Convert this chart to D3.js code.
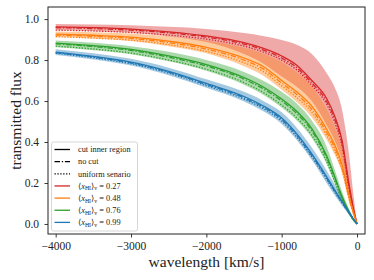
<!DOCTYPE html>
<html><head><meta charset="utf-8">
<script src="https://cdn.jsdelivr.net/npm/d3@7"></script>
<style>
body{margin:0;background:#fff}
svg{display:block}
text{font-family:"Liberation Serif","DejaVu Serif",serif;fill:#222}
</style>
</head><body>
<svg id="c" width="374" height="280"></svg>
<script>
// ---- data ----
const wavelength = [-4000,-3500,-3000,-2500,-2000,-1500,-1250,-1000,-800,-600,-400,-300,-200,-100,-50,0];

const redCut    = [0.962,0.958,0.951,0.938,0.918,0.885,0.858,0.820,0.775,0.700,0.610,0.530,0.410,0.180,0.080,0];
const redNoCut  = [0.958,0.954,0.946,0.933,0.912,0.878,0.850,0.810,0.763,0.688,0.595,0.515,0.395,0.170,0.075,0];
const redUnif   = [0.946,0.942,0.935,0.922,0.902,0.868,0.840,0.800,0.752,0.676,0.582,0.500,0.380,0.160,0.070,0];
const redUpper  = [0.976,0.974,0.970,0.962,0.952,0.932,0.918,0.898,0.875,0.830,0.735,0.670,0.560,0.320,0.150,0];
const redLower  = [0.945,0.941,0.933,0.915,0.888,0.830,0.785,0.720,0.670,0.600,0.480,0.410,0.310,0.140,0.060,0];

const orangeCut   = [0.927,0.921,0.912,0.892,0.862,0.810,0.770,0.700,0.645,0.575,0.460,0.390,0.290,0.130,0.060,0];
const orangeNoCut = [0.922,0.916,0.906,0.885,0.853,0.800,0.758,0.688,0.632,0.560,0.445,0.375,0.278,0.122,0.056,0];
const orangeUnif  = [0.914,0.907,0.897,0.875,0.842,0.787,0.745,0.674,0.617,0.545,0.430,0.360,0.265,0.115,0.052,0];
const orangeUpper = [0.940,0.936,0.930,0.916,0.895,0.860,0.832,0.790,0.740,0.670,0.560,0.480,0.370,0.200,0.090,0];
const orangeLower = [0.912,0.905,0.893,0.868,0.833,0.770,0.725,0.655,0.595,0.520,0.410,0.340,0.250,0.100,0.045,0];

const greenCut   = [0.883,0.870,0.852,0.820,0.778,0.715,0.670,0.610,0.550,0.465,0.330,0.235,0.135,0.055,0.022,0];
const greenNoCut = [0.879,0.866,0.847,0.814,0.771,0.707,0.661,0.600,0.539,0.454,0.320,0.227,0.130,0.052,0.021,0];
const greenUnif  = [0.868,0.854,0.834,0.800,0.755,0.690,0.643,0.580,0.518,0.433,0.302,0.212,0.120,0.048,0.019,0];
const greenUpper = [0.895,0.884,0.868,0.840,0.800,0.742,0.700,0.645,0.588,0.505,0.375,0.270,0.160,0.068,0.028,0];
const greenLower = [0.862,0.848,0.828,0.794,0.748,0.680,0.632,0.568,0.505,0.420,0.290,0.200,0.110,0.042,0.016,0];

const blueCut   = [0.839,0.818,0.790,0.745,0.686,0.622,0.577,0.517,0.440,0.342,0.228,0.168,0.110,0.054,0.026,0];
const blueNoCut = [0.836,0.815,0.786,0.741,0.681,0.616,0.571,0.510,0.432,0.334,0.222,0.163,0.106,0.052,0.025,0];
const blueUnif  = [0.833,0.811,0.782,0.736,0.675,0.609,0.564,0.502,0.424,0.327,0.216,0.158,0.103,0.050,0.024,0];
const blueUpper = [0.853,0.833,0.806,0.763,0.706,0.645,0.602,0.545,0.470,0.373,0.258,0.195,0.132,0.066,0.032,0];
const blueLower = [0.825,0.803,0.773,0.726,0.665,0.598,0.551,0.488,0.410,0.312,0.198,0.142,0.090,0.042,0.020,0];

const xhiValues = ["0.27","0.48","0.76","0.99"];
const styleLabels = ["cut inner region","no cut","uniform senario"];
const xTicks = [-4000,-3000,-2000,-1000,0];
const yTicks = [0,0.2,0.4,0.6,0.8,1.0];

// ---- setup ----
const colors = ["#d62728","#ff7f0e","#2ca02c","#1f77b4"];
const series = [
  {cut:redCut, nocut:redNoCut, unif:redUnif, up:redUpper, lo:redLower},
  {cut:orangeCut, nocut:orangeNoCut, unif:orangeUnif, up:orangeUpper, lo:orangeLower},
  {cut:greenCut, nocut:greenNoCut, unif:greenUnif, up:greenUpper, lo:greenLower},
  {cut:blueCut, nocut:blueNoCut, unif:blueUnif, up:blueUpper, lo:blueLower}
];
const dashes = {cut:null, nocut:"5.5,1.8,1.3,1.8", unif:"1.3,1.6"};

const svg = d3.select("#c");
const L=48, R=365, T=7, B=234;
const x = d3.scaleLinear().domain([-4102,106]).range([L,R]);
const y = d3.scaleLinear().domain([-0.049,1.059]).range([B,T]);

svg.append("defs").append("clipPath").attr("id","clip")
  .append("rect").attr("x",L).attr("y",T).attr("width",R-L).attr("height",B-T);

const plot = svg.append("g").attr("clip-path","url(#clip)");
const area = d3.area().x((d,i)=>x(wavelength[i])).y0(d=>y(d[0])).y1(d=>y(d[1])).curve(d3.curveMonotoneX);
const line = d3.line().x((d,i)=>x(wavelength[i])).y(d=>y(d)).curve(d3.curveMonotoneX);

series.forEach((s,k)=>{
  const pts = s.lo.map((v,i)=>[v, s.up[i]]);
  plot.append("path").attr("d", area(pts)).attr("fill", colors[k]).attr("fill-opacity",0.4).attr("stroke","none");
});
series.forEach((s,k)=>{
  ["unif","nocut","cut"].forEach(key=>{
    plot.append("path").attr("d", line(s[key])).attr("fill","none")
      .attr("stroke", colors[k]).attr("stroke-width",1.3)
      .attr("stroke-dasharray", dashes[key]);
  });
});

// axes
const xAxis = d3.axisBottom(x).tickValues(xTicks).tickSize(3.5).tickPadding(4.5).tickFormat(d3.format("d"));
const yAxis = d3.axisLeft(y).tickValues(yTicks).tickSize(3.5).tickPadding(5.5).tickFormat(d3.format(".1f"));
const gx = svg.append("g").attr("transform",`translate(0,${B})`).call(xAxis);
const gy = svg.append("g").attr("transform",`translate(${L},0)`).call(yAxis);
[gx,gy].forEach(g=>{
  g.select(".domain").remove();
  g.selectAll(".tick line").attr("stroke","#222").attr("stroke-width",0.9);
  g.selectAll(".tick text").attr("font-size",11.5).attr("fill","#222")
    .style("font-family",'"Liberation Serif","DejaVu Serif",serif');
});
svg.append("rect").attr("x",L).attr("y",T).attr("width",R-L).attr("height",B-T)
  .attr("fill","none").attr("stroke","#222").attr("stroke-width",1);

// axis labels
svg.append("text").attr("x",(L+R)/2).attr("y",267).attr("text-anchor","middle")
  .attr("font-size",15.5).text("wavelength [km/s]");
svg.append("text").attr("transform",`translate(20.5,${(T+B)/2}) rotate(-90)`).attr("text-anchor","middle")
  .attr("font-size",15.5).text("transmitted flux");

// legend
const lg = svg.append("g");
lg.append("rect").attr("x",51.5).attr("y",142).attr("width",86).attr("height",89).attr("rx",2)
  .attr("fill","#fff").attr("fill-opacity",0.8).attr("stroke","#ccc").attr("stroke-width",0.8);
const rowY = i => 149.5 + i*12.15;
const lx0 = 54.5, lx1 = 70, tx = 78;
const items = [
  {stroke:"#000", dash:null, label:styleLabels[0]},
  {stroke:"#000", dash:"5.5,1.8,1.3,1.8", label:styleLabels[1]},
  {stroke:"#000", dash:"1.3,1.6", label:styleLabels[2]}
];
colors.forEach((c,k)=>items.push({stroke:c, dash:null, xhi:xhiValues[k]}));
items.forEach((it,i)=>{
  const yy = rowY(i);
  lg.append("line").attr("x1",lx0).attr("x2",lx1).attr("y1",yy).attr("y2",yy)
    .attr("stroke",it.stroke).attr("stroke-width",1.3).attr("stroke-dasharray",it.dash);
  const t = lg.append("text").attr("x",tx).attr("y",yy+2.8).attr("font-size",8.3);
  if (it.label) { t.text(it.label); }
  else {
    t.append("tspan").text("⟨");
    t.append("tspan").attr("font-style","italic").text("x");
    t.append("tspan").attr("font-size",5.8).attr("dy",1.6).text("HI");
    t.append("tspan").attr("dy",-1.6).text("⟩");
    t.append("tspan").attr("font-size",5.8).attr("dy",1.6).text("v");
    t.append("tspan").attr("dy",-1.6).text(" = " + it.xhi);
  }
});
</script>
</body></html>
